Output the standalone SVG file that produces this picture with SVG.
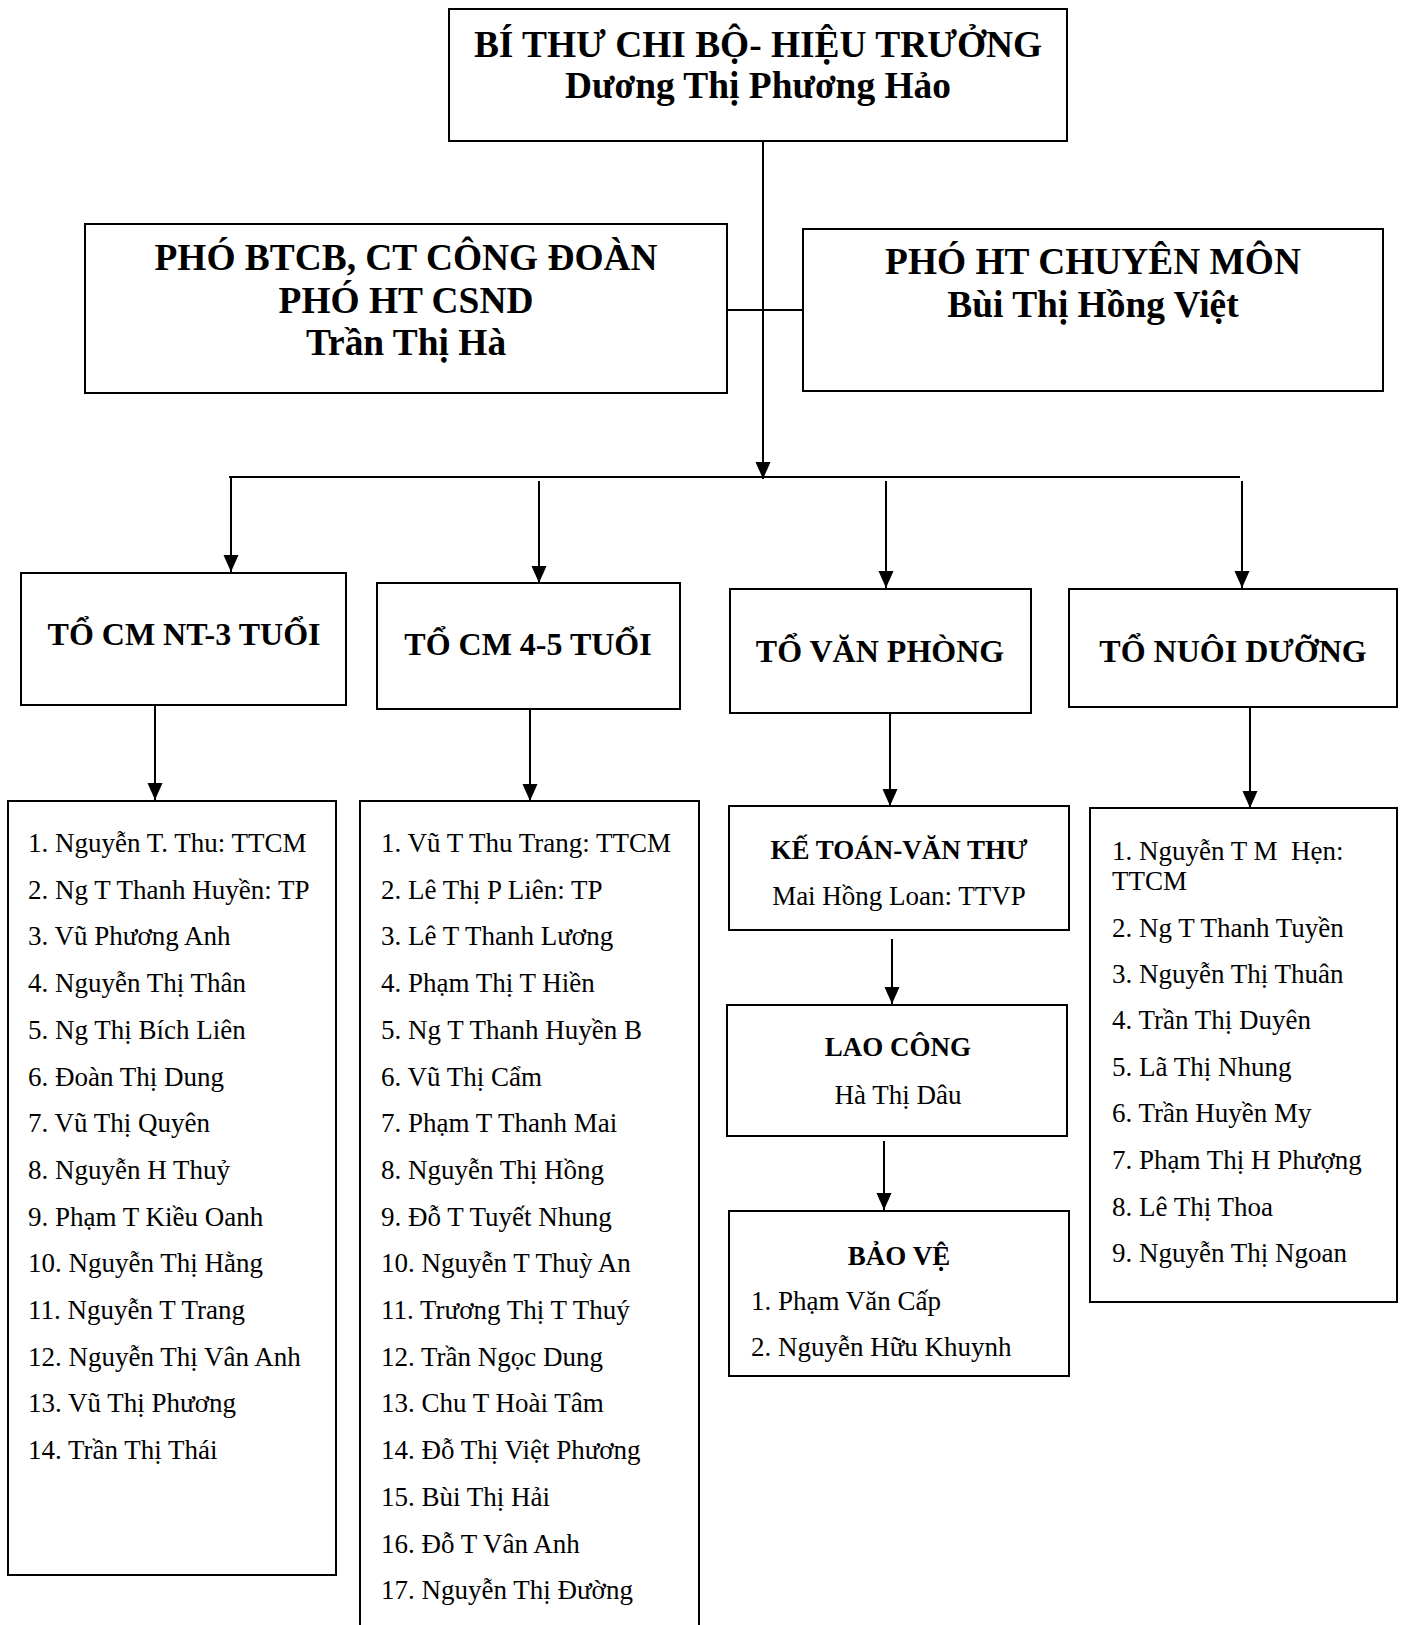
<svg xmlns="http://www.w3.org/2000/svg" width="1405" height="1625" viewBox="0 0 1405 1625">
<style>
.box{fill:#fff;stroke:#000;stroke-width:2}
.ln{fill:none;stroke:#000;stroke-width:2}
text{font-family:"Liberation Serif","Times New Roman",serif;fill:#000}
.t1{font-size:37.4px;font-weight:bold;text-anchor:middle}
.t2{font-size:32px;font-weight:bold;text-anchor:middle}
.t3{font-size:27px;font-weight:bold;text-anchor:middle}
.it{font-size:27px}
.itc{font-size:27px;text-anchor:middle}
</style>
<defs>
<marker id="arr" markerUnits="userSpaceOnUse" markerWidth="18" markerHeight="16" refX="17" refY="7.5" orient="auto">
<path d="M0,0 L17,7.5 L0,15 z" fill="#000"/>
</marker>
</defs>
<rect width="1405" height="1625" fill="#fff"/>

<g id="connectors">
<line class="ln" x1="763" y1="141" x2="763" y2="479" marker-end="url(#arr)"/>
<line class="ln" x1="727" y1="310" x2="803" y2="310"/>
<line class="ln" x1="229" y1="477" x2="1240" y2="477"/>
<line class="ln" x1="231" y1="477" x2="231" y2="572" marker-end="url(#arr)"/>
<line class="ln" x1="539" y1="481" x2="539" y2="583" marker-end="url(#arr)"/>
<line class="ln" x1="886" y1="481" x2="886" y2="588" marker-end="url(#arr)"/>
<line class="ln" x1="1242" y1="481" x2="1242" y2="588" marker-end="url(#arr)"/>
<line class="ln" x1="155" y1="705" x2="155" y2="800" marker-end="url(#arr)"/>
<line class="ln" x1="530" y1="709" x2="530" y2="801" marker-end="url(#arr)"/>
<line class="ln" x1="890" y1="713" x2="890" y2="806" marker-end="url(#arr)"/>
<line class="ln" x1="1250" y1="707" x2="1250" y2="808" marker-end="url(#arr)"/>
<line class="ln" x1="892" y1="939" x2="892" y2="1004" marker-end="url(#arr)"/>
<line class="ln" x1="884" y1="1141" x2="884" y2="1210" marker-end="url(#arr)"/>
</g>

<g id="hieutruong">
<rect class="box" x="449" y="9" width="618" height="132"/>
<text class="t1" x="758" y="57">BÍ THƯ CHI BỘ- HIỆU TRƯỞNG</text>
<text class="t1" x="758" y="98">Dương Thị Phương Hảo</text>
</g>

<g id="phobtcb">
<rect class="box" x="85" y="224" width="642" height="169"/>
<text class="t1" x="406" y="270">PHÓ BTCB, CT CÔNG ĐOÀN</text>
<text class="t1" x="406" y="313">PHÓ HT CSND</text>
<text class="t1" x="406" y="355">Trần Thị Hà</text>
</g>

<g id="phoht">
<rect class="box" x="803" y="229" width="580" height="162"/>
<text class="t1" x="1093" y="274">PHÓ HT CHUYÊN MÔN</text>
<text class="t1" x="1093" y="317">Bùi Thị Hồng Việt</text>
</g>

<g id="to-nt3">
<rect class="box" x="21" y="573" width="325" height="132"/>
<text class="t2" x="184" y="645">TỔ CM NT-3 TUỔI</text>
</g>

<g id="to-45">
<rect class="box" x="377" y="583" width="303" height="126"/>
<text class="t2" x="528" y="655">TỔ CM 4-5 TUỔI</text>
</g>

<g id="to-vanphong">
<rect class="box" x="730" y="589" width="301" height="124"/>
<text class="t2" x="880" y="662">TỔ VĂN PHÒNG</text>
</g>

<g id="to-nuoiduong">
<rect class="box" x="1069" y="589" width="328" height="118"/>
<text class="t2" x="1233" y="662">TỔ NUÔI DƯỠNG</text>
</g>

<g id="list-nt3">
<rect class="box" x="8" y="801" width="328" height="774"/>
<text class="it" x="28" y="852">1. Nguyễn T. Thu: TTCM</text>
<text class="it" x="28" y="898.7">2. Ng T Thanh Huyền: TP</text>
<text class="it" x="28" y="945.4">3. Vũ Phương Anh</text>
<text class="it" x="28" y="992.1">4. Nguyễn Thị Thân</text>
<text class="it" x="28" y="1038.8">5. Ng Thị Bích Liên</text>
<text class="it" x="28" y="1085.5">6. Đoàn Thị Dung</text>
<text class="it" x="28" y="1132.2">7. Vũ Thị Quyên</text>
<text class="it" x="28" y="1178.9">8. Nguyễn H Thuỷ</text>
<text class="it" x="28" y="1225.6">9. Phạm T Kiều Oanh</text>
<text class="it" x="28" y="1272.3">10. Nguyễn Thị Hằng</text>
<text class="it" x="28" y="1319">11. Nguyễn T Trang</text>
<text class="it" x="28" y="1365.7">12. Nguyễn Thị Vân Anh</text>
<text class="it" x="28" y="1412.4">13. Vũ Thị Phương</text>
<text class="it" x="28" y="1459.1">14. Trần Thị Thái</text>
</g>

<g id="list-45">
<rect class="box" x="360" y="801" width="339" height="840"/>
<text class="it" x="381" y="852">1. Vũ T Thu Trang: TTCM</text>
<text class="it" x="381" y="898.7">2. Lê Thị P Liên: TP</text>
<text class="it" x="381" y="945.4">3. Lê T Thanh Lương</text>
<text class="it" x="381" y="992.1">4. Phạm Thị T Hiền</text>
<text class="it" x="381" y="1038.8">5. Ng T Thanh Huyền B</text>
<text class="it" x="381" y="1085.5">6. Vũ Thị Cẩm</text>
<text class="it" x="381" y="1132.2">7. Phạm T Thanh Mai</text>
<text class="it" x="381" y="1178.9">8. Nguyễn Thị Hồng</text>
<text class="it" x="381" y="1225.6">9. Đỗ T Tuyết Nhung</text>
<text class="it" x="381" y="1272.3">10. Nguyễn T Thuỳ An</text>
<text class="it" x="381" y="1319">11. Trương Thị T Thuý</text>
<text class="it" x="381" y="1365.7">12. Trần Ngọc Dung</text>
<text class="it" x="381" y="1412.4">13. Chu T Hoài Tâm</text>
<text class="it" x="381" y="1459.1">14. Đỗ Thị Việt Phương</text>
<text class="it" x="381" y="1505.8">15. Bùi Thị Hải</text>
<text class="it" x="381" y="1552.5">16. Đỗ T Vân Anh</text>
<text class="it" x="381" y="1599.2">17. Nguyễn Thị Đường</text>
</g>

<g id="ketoan">
<rect class="box" x="729" y="806" width="340" height="124"/>
<text class="t3" x="899" y="859">KẾ TOÁN-VĂN THƯ</text>
<text class="itc" x="899" y="905">Mai Hồng Loan: TTVP</text>
</g>

<g id="laocong">
<rect class="box" x="727" y="1005" width="340" height="131"/>
<text class="t3" x="898" y="1056">LAO CÔNG</text>
<text class="itc" x="898" y="1104">Hà Thị Dâu</text>
</g>

<g id="baove">
<rect class="box" x="729" y="1211" width="340" height="165"/>
<text class="t3" x="899" y="1265">BẢO VỆ</text>
<text class="it" x="751" y="1310">1. Phạm Văn Cấp</text>
<text class="it" x="751" y="1356">2. Nguyễn Hữu Khuynh</text>
</g>

<g id="list-nuoiduong">
<rect class="box" x="1090" y="808" width="307" height="494"/>
<text class="it" x="1112" y="860" xml:space="preserve">1. Nguyễn T M  Hẹn:</text>
<text class="it" x="1112" y="890">TTCM</text>
<text class="it" x="1112" y="937">2. Ng T Thanh Tuyền</text>
<text class="it" x="1112" y="983">3. Nguyễn Thị Thuân</text>
<text class="it" x="1112" y="1029">4. Trần Thị Duyên</text>
<text class="it" x="1112" y="1076">5. Lã Thị Nhung</text>
<text class="it" x="1112" y="1122">6. Trần Huyền My</text>
<text class="it" x="1112" y="1169">7. Phạm Thị H Phượng</text>
<text class="it" x="1112" y="1216">8. Lê Thị Thoa</text>
<text class="it" x="1112" y="1262">9. Nguyễn Thị Ngoan</text>
</g>
</svg>
